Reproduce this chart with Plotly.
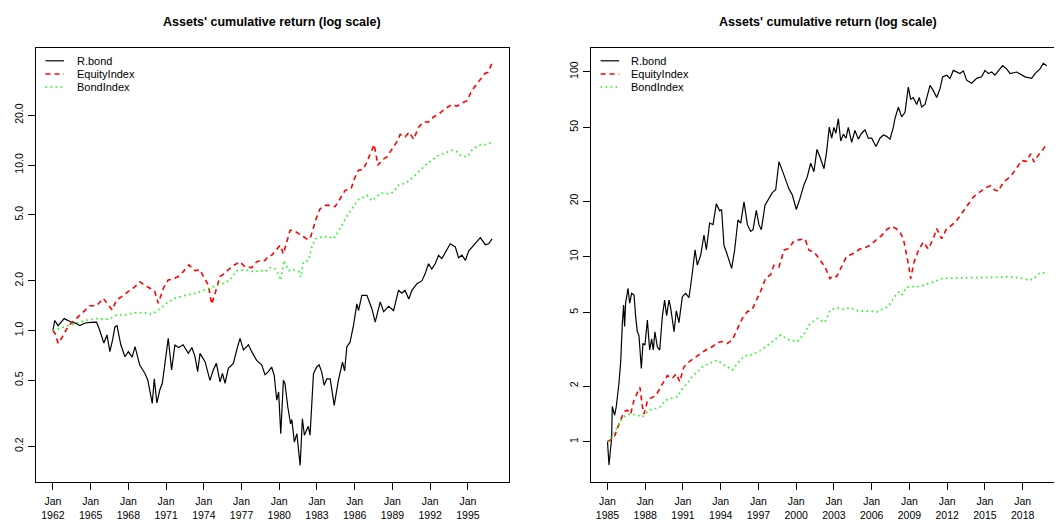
import plotly.graph_objects as go

# ---------------- data: left panel (1962-1996) ----------------
L_bond_t = [1962.0, 1962.15, 1962.41, 1962.9, 1963.4, 1963.9, 1964.14, 1964.54, 1965.0, 1965.47, 1965.73,
            1966.05, 1966.3, 1966.53, 1966.75, 1966.93, 1967.1, 1967.4, 1967.73, 1968.0, 1968.3, 1968.53,
            1968.9, 1969.32, 1969.55, 1969.72, 1969.9, 1970.06, 1970.27, 1970.5, 1970.7, 1970.91, 1971.17,
            1971.44, 1971.7, 1972.0, 1972.35, 1972.77, 1973.05, 1973.3, 1973.51, 1973.7, 1974.1, 1974.49,
            1974.75, 1975.0, 1975.29, 1975.48, 1975.69, 1975.95, 1976.35, 1976.62, 1976.88, 1977.15,
            1977.55, 1977.81, 1978.2, 1978.6, 1978.87, 1979.1, 1979.4, 1979.6, 1979.8, 1979.95, 1980.12,
            1980.33, 1980.45, 1980.68, 1980.9, 1981.0, 1981.2, 1981.4, 1981.66, 1981.84, 1982.0, 1982.3,
            1982.45, 1982.72, 1982.98, 1983.17, 1983.38, 1983.57, 1983.78, 1984.05, 1984.37, 1984.7,
            1985.03, 1985.2, 1985.37, 1985.63, 1985.9, 1986.17, 1986.3, 1986.57, 1986.97, 1987.37,
            1987.63, 1988.03, 1988.3, 1988.7, 1989.09, 1989.48, 1989.75, 1990.0, 1990.3, 1990.55,
            1990.95, 1991.35, 1991.6, 1991.87, 1992.13, 1992.4, 1992.67, 1992.93, 1993.34, 1993.6,
            1994.0, 1994.26, 1994.53, 1994.8, 1995.06, 1995.46, 1995.99, 1996.39, 1996.65, 1996.92]
L_bond_v = [1.00, 1.15, 1.07, 1.18, 1.13, 1.10, 1.07, 1.11, 1.12, 1.125, 1.00,
            0.84, 0.94, 0.745, 0.88, 1.05, 1.07, 0.82, 0.694, 0.745, 0.69, 0.80,
            0.62, 0.55, 0.50, 0.42, 0.363, 0.51, 0.365, 0.437, 0.48, 0.633, 0.897,
            0.577, 0.818, 0.79, 0.82, 0.728, 0.79, 0.695, 0.564, 0.728, 0.648, 0.50,
            0.577, 0.633, 0.49, 0.55, 0.48, 0.59, 0.633, 0.763, 0.897, 0.763,
            0.82, 0.745, 0.66, 0.62, 0.54, 0.56, 0.60, 0.536, 0.379, 0.425, 0.238,
            0.50, 0.48, 0.345, 0.273, 0.29, 0.212, 0.238, 0.153, 0.293, 0.233, 0.264,
            0.233, 0.548, 0.602, 0.62, 0.56, 0.467, 0.51, 0.51, 0.353, 0.50,
            0.645, 0.57, 0.795, 0.85, 1.07, 1.45, 1.32, 1.63, 1.63, 1.35,
            1.125, 1.49, 1.30, 1.40, 1.32, 1.75, 1.68, 1.75, 1.55, 1.75,
            1.92, 2.0, 2.20, 2.53, 2.35, 2.53, 2.85, 2.72, 3.12, 3.34,
            3.2, 2.75, 2.85, 2.65, 3.02, 3.27, 3.64, 3.3, 3.34, 3.58]

L_eq_t = [1962.0, 1962.2, 1962.41, 1962.7, 1963.03, 1963.3, 1963.88, 1964.41, 1964.94, 1965.47, 1966.0,
          1966.4, 1966.72, 1967.05, 1967.46, 1967.99, 1968.53, 1968.92, 1969.32, 1969.72, 1970.1,
          1970.38, 1970.78, 1971.17, 1971.57, 1971.97, 1972.37, 1972.82, 1973.3, 1973.7, 1973.96,
          1974.36, 1974.63, 1974.9, 1975.29, 1975.69, 1975.95, 1976.43, 1976.88, 1977.28, 1977.81,
          1978.2, 1978.6, 1978.87, 1979.14, 1979.4, 1979.8, 1980.07, 1980.33, 1980.6, 1980.86,
          1981.13, 1981.53, 1981.79, 1982.19, 1982.45, 1982.72, 1982.98, 1983.25, 1983.65, 1984.05,
          1984.44, 1984.84, 1985.24, 1985.72, 1985.98, 1986.3, 1986.65, 1986.91, 1987.23, 1987.55,
          1987.84, 1988.16, 1988.56, 1988.96, 1989.35, 1989.62, 1990.02, 1990.34, 1990.68, 1991.08,
          1991.48, 1991.88, 1992.27, 1992.67, 1993.2, 1993.73, 1994.13, 1994.53, 1994.93, 1995.33,
          1995.86, 1996.34, 1996.6, 1996.92]
L_eq_v = [1.0, 0.95, 0.837, 0.90, 1.0, 1.08, 1.185, 1.30, 1.41, 1.41, 1.565,
          1.43, 1.33, 1.53, 1.60, 1.72, 1.84, 1.97, 1.87, 1.80, 1.72,
          1.46, 1.80, 2.02, 2.05, 2.12, 2.27, 2.49, 2.30, 2.33, 2.12,
          1.88, 1.44, 1.68, 2.12, 2.22, 2.33, 2.49, 2.60, 2.42, 2.40,
          2.60, 2.66, 2.65, 2.82, 2.85, 3.1, 3.27, 2.9, 3.5, 4.03,
          4.03, 3.85, 3.78, 3.58, 3.58, 4.22, 4.85, 5.44, 5.70, 5.70,
          5.6, 6.26, 7.03, 7.2, 8.29, 9.3, 9.4, 10.2, 11.7, 13.3,
          9.96, 10.7, 11.2, 12.5, 13.8, 15.3, 14.8, 15.8, 14.3, 16.9,
          18.2, 18.2, 19.5, 20.3, 21.9, 23.2, 22.7, 23.7, 24.5, 28.3,
          31.8, 35.6, 36.4, 41.2]

L_bi_t = [1962.0, 1962.68, 1963.74, 1964.54, 1965.47, 1966.45, 1967.06, 1967.72, 1968.52, 1969.32,
          1969.85, 1970.38, 1971.04, 1971.71, 1972.63, 1973.43, 1973.96, 1974.49, 1974.89, 1975.55,
          1976.08, 1976.62, 1977.28, 1977.94, 1978.61, 1978.87, 1979.27, 1979.67, 1979.93, 1980.12,
          1980.38, 1980.73, 1981.13, 1981.53, 1981.71, 1981.92, 1982.32, 1982.59, 1982.85, 1983.38,
          1983.91, 1984.31, 1984.84, 1985.24, 1985.77, 1986.3, 1986.97, 1987.36, 1987.76, 1988.16,
          1988.69, 1989.09, 1989.49, 1990.02, 1990.55, 1991.08, 1991.61, 1992.14, 1992.67, 1993.2,
          1993.73, 1994.13, 1994.4, 1994.93, 1995.33, 1995.86, 1996.39, 1996.79, 1996.92]
L_bi_v = [1.0, 1.04, 1.105, 1.15, 1.18, 1.17, 1.24, 1.24, 1.28, 1.28,
          1.25, 1.33, 1.46, 1.565, 1.64, 1.68, 1.75, 1.80, 1.86, 1.93,
          2.02, 2.30, 2.32, 2.27, 2.30, 2.26, 2.4, 2.36, 2.2, 2.01,
          2.65, 2.3, 2.33, 2.28, 2.1, 2.59, 2.65, 3.19, 3.58, 3.67,
          3.7, 3.58, 4.12, 4.73, 5.44, 6.17, 6.56, 6.07, 6.45, 6.77,
          6.7, 6.85, 7.55, 7.75, 8.3, 9.07, 9.96, 10.7, 11.45, 11.8,
          12.3, 12.0, 11.45, 11.2, 12.3, 13.15, 13.3, 13.6, 13.6]

# ---------------- data: right panel (1985-2019) ----------------
R_bond_t = [1985.0, 1985.12, 1985.33, 1985.38, 1985.57, 1985.7, 1985.91, 1986.05, 1986.18, 1986.28, 1986.36,
            1986.44, 1986.63, 1986.76, 1986.92, 1987.11, 1987.24, 1987.37, 1987.5, 1987.69, 1987.82, 1987.98,
            1988.17, 1988.35, 1988.51, 1988.64, 1988.77, 1988.96, 1989.15, 1989.36, 1989.54, 1989.7, 1989.89,
            1990.02, 1990.29, 1990.47, 1990.68, 1990.95, 1991.21, 1991.48, 1991.74, 1991.96, 1992.14, 1992.41,
            1992.67, 1992.86, 1993.12, 1993.39, 1993.65, 1993.92, 1994.07, 1994.26, 1994.45, 1994.66, 1994.87,
            1995.11, 1995.37, 1995.59, 1995.85, 1996.12, 1996.38, 1996.57, 1996.83, 1997.04, 1997.23, 1997.52,
            1997.84, 1998.1, 1998.37, 1998.63, 1998.9, 1999.16, 1999.43, 1999.69, 2000.01, 2000.28, 2000.62,
            2000.88, 2001.15, 2001.41, 2001.65, 2001.89, 2002.21, 2002.42, 2002.63, 2002.82, 2003.0, 2003.16,
            2003.35, 2003.54, 2003.75, 2003.96, 2004.14, 2004.41, 2004.67, 2004.94, 2005.2, 2005.47, 2005.73,
            2006.0, 2006.34, 2006.66, 2006.93, 2007.19, 2007.46, 2007.72, 2007.85, 2008.12, 2008.38, 2008.65,
            2008.91, 2009.1, 2009.31, 2009.58, 2009.79, 2009.97, 2010.24, 2010.42, 2010.64, 2010.9, 2011.17,
            2011.43, 2011.64, 2011.96, 2012.23, 2012.49, 2012.76, 2013.02, 2013.29, 2013.55, 2013.95, 2014.35,
            2014.74, 2015.01, 2015.27, 2015.54, 2015.8, 2016.07, 2016.41, 2016.73, 2017.0, 2017.53, 2017.92,
            2018.19, 2018.72, 2018.98, 2019.38, 2019.65, 2019.91]
R_bond_v = [1.0, 0.748, 1.05, 1.55, 1.39, 1.55, 2.07, 2.71, 4.37, 5.48, 4.2,
            5.6, 6.74, 5.6, 6.34, 6.2, 4.74, 3.93, 3.76, 2.49, 3.4, 3.33,
            4.54, 3.13, 3.6, 3.13, 3.93, 3.26, 3.13, 4.74, 5.83, 4.8, 5.83,
            5.3, 3.93, 5.1, 4.4, 6.08, 6.34, 6.0, 8.14, 10.9, 9.0, 10.2,
            13.1, 10.9, 15.2, 14.9, 19.3, 17.7, 18.0, 11.5, 10.6, 9.6, 8.65,
            10.9, 15.8, 15.2, 19.8, 14.9, 13.7, 14.0, 17.8, 14.9, 14.0, 19.0,
            20.6, 22.2, 23.0, 32.6, 29.2, 25.9, 23.2, 21.6, 18.0, 20.4, 24.5,
            27.0, 32.0, 28.8, 38.0, 34.6, 29.9, 37.0, 50.2, 43.7, 50.0, 46.5,
            55.7, 42.2, 46.0, 43.7, 50.0, 41.5, 48.1, 43.2, 46.5, 48.5, 43.7,
            43.7, 39.4, 43.7, 45.5, 44.7, 43.2, 50.0, 55.8, 64.4, 57.0, 60.3,
            82.6, 71.0, 72.5, 66.5, 72.5, 64.4, 66.5, 74.0, 84.3, 79.0, 72.5,
            80.7, 93.8, 95.6, 92.0, 101.6, 99.6, 97.7, 101.0, 90.0, 86.6, 92.0,
            93.8, 101.6, 97.7, 99.6, 95.8, 101.6, 107.8, 103.6, 97.7, 99.6, 95.8,
            93.8, 92.0, 97.7, 103.6, 111.0, 107.6]

R_eq_t = [1985.0, 1985.25, 1985.52, 1985.78, 1986.05, 1986.31, 1986.58, 1986.84, 1987.11, 1987.37, 1987.58,
          1987.77, 1987.9, 1988.17, 1988.43, 1988.83, 1989.09, 1989.49, 1989.76, 1990.15, 1990.47, 1990.74,
          1991.08, 1991.48, 1991.88, 1992.27, 1992.8, 1993.33, 1993.73, 1994.13, 1994.53, 1994.92, 1995.32,
          1995.72, 1996.11, 1996.51, 1996.91, 1997.17, 1997.57, 1997.97, 1998.23, 1998.63, 1999.03, 1999.43,
          1999.83, 2000.22, 2000.7, 2001.02, 2001.41, 2001.81, 2002.29, 2002.69, 2002.95, 2003.22, 2003.61,
          2004.01, 2004.54, 2005.07, 2005.47, 2005.87, 2006.34, 2006.79, 2007.19, 2007.59, 2007.93, 2008.25,
          2008.52, 2008.73, 2008.91, 2009.1, 2009.36, 2009.71, 2010.11, 2010.5, 2010.9, 2011.17, 2011.56,
          2011.96, 2012.36, 2012.76, 2013.15, 2013.55, 2014.08, 2014.61, 2015.14, 2015.46, 2015.8, 2016.07,
          2016.47, 2017.0, 2017.39, 2017.92, 2018.32, 2018.64, 2018.9, 2019.25, 2019.59, 2019.91]
R_eq_v = [1.0, 1.02, 1.05, 1.18, 1.32, 1.45, 1.48, 1.41, 1.68, 1.83, 1.97,
          1.55, 1.41, 1.65, 1.72, 1.77, 1.90, 2.15, 2.28, 2.2, 2.33, 2.11,
          2.54, 2.7, 2.82, 2.95, 3.13, 3.26, 3.43, 3.48, 3.4, 3.55, 4.1,
          4.64, 5.04, 5.2, 5.95, 6.5, 7.65, 8.0, 9.0, 8.8, 10.85, 11.1,
          12.2, 12.3, 12.5, 10.85, 10.6, 9.8, 8.8, 7.6, 7.9, 7.8, 8.9,
          10.05, 10.4, 11.0, 11.2, 11.5, 12.3, 13.0, 14.0, 14.6, 14.2, 13.6,
          12.5, 10.8, 9.2, 7.6, 9.3, 10.8, 12.0, 11.0, 12.5, 14.2, 12.5,
          14.2, 14.8, 15.7, 17.1, 18.9, 21.0, 22.4, 23.7, 24.2, 22.9, 22.6,
          25.3, 27.0, 29.2, 33.1, 32.8, 36.0, 32.5, 35.4, 37.7, 40.8]

R_bi_t = [1985.0, 1985.52, 1986.05, 1986.44, 1986.84, 1987.37, 1987.77, 1988.3, 1988.83, 1989.23, 1989.62,
          1990.15, 1990.55, 1990.95, 1991.35, 1991.74, 1992.14, 1992.54, 1993.07, 1993.73, 1994.26, 1994.92,
          1995.32, 1995.85, 1996.51, 1997.04, 1997.57, 1998.1, 1998.77, 1999.43, 2000.09, 2000.62, 2001.02,
          2001.68, 2001.89, 2002.29, 2002.69, 2003.22, 2003.75, 2004.28, 2004.81, 2005.34, 2005.87, 2006.4,
          2006.93, 2007.32, 2007.72, 2008.12, 2008.38, 2008.78, 2009.31, 2009.84, 2010.37, 2010.9, 2011.56,
          2012.23, 2013.02, 2013.82, 2014.61, 2015.41, 2016.2, 2016.73, 2017.39, 2017.92, 2018.59, 2018.98,
          2019.38, 2019.91]
R_bi_v = [1.0, 1.11, 1.3, 1.39, 1.41, 1.39, 1.36, 1.48, 1.51, 1.55, 1.68,
          1.72, 1.75, 1.94, 2.07, 2.25, 2.4, 2.54, 2.65, 2.76, 2.6, 2.44,
          2.65, 2.9, 2.95, 3.08, 3.26, 3.47, 3.77, 3.55, 3.47, 3.82, 4.27,
          4.64, 4.53, 4.43, 5.12, 5.3, 5.2, 5.3, 5.12, 5.08, 5.08, 5.03,
          5.2, 5.38, 5.93, 6.43, 6.2, 6.84, 6.9, 6.9, 7.1, 7.3, 7.6,
          7.65, 7.7, 7.7, 7.7, 7.7, 7.75, 7.8, 7.75, 7.65, 7.45, 7.7,
          8.17, 8.2]

series_names = ["R.bond", "EquityIndex", "BondIndex"]
title_text = "Assets' cumulative return (log scale)"

L_xtick_years = list(range(1962, 1996, 3))
R_xtick_years = list(range(1985, 2019, 3))
L_xtick_text = ["Jan<br>%d" % y for y in L_xtick_years]
R_xtick_text = ["Jan<br>%d" % y for y in R_xtick_years]
L_ytick_vals = [0.2, 0.5, 1.0, 2.0, 5.0, 10.0, 20.0]
L_ytick_text = ["0.2", "0.5", "1.0", "2.0", "5.0", "10.0", "20.0"]
R_ytick_vals = [1, 2, 5, 10, 20, 50, 100]
R_ytick_text = ["1", "2", "5", "10", "20", "50", "100"]

# ---------------- styling ----------------
# The page body keeps an 8px margin, so the figure is drawn 8px in from the
# top-left corner of the 1062x520 window; positions below are window pixels.
OFF = 8
W, H = 1062 - OFF, 520 - OFF
FONT = "Liberation Sans, Arial, Helvetica, sans-serif"
styles = [dict(color="black", width=1.2, dash="solid"),
          dict(color="#FF0000", width=1.6, dash="5px,4px"),
          dict(color="#00FF00", width=1.6, dash="1.5px,3.5px")]

def px(x):
    return (x - OFF) / W

def py(y):
    return 1 - (y - OFF) / H

fig = go.Figure()
left = [(L_bond_t, L_bond_v), (L_eq_t, L_eq_v), (L_bi_t, L_bi_v)]
right = [(R_bond_t, R_bond_v), (R_eq_t, R_eq_v), (R_bi_t, R_bi_v)]
for (t, v), nm, st in zip(left, series_names, styles):
    fig.add_trace(go.Scatter(x=t, y=v, mode="lines", name=nm, line=st,
                             xaxis="x", yaxis="y", showlegend=False))
for (t, v), nm, st in zip(right, series_names, styles):
    fig.add_trace(go.Scatter(x=t, y=v, mode="lines", name=nm, line=st,
                             xaxis="x2", yaxis="y2", showlegend=False))

ydom = [py(481.5), py(47.5)]
axis_common = dict(showgrid=False, zeroline=False, showline=True, linecolor="black",
                   linewidth=1, ticks="outside", ticklen=7, tickcolor="black", tickwidth=1,
                   tickfont=dict(family=FONT, size=10.5, color="black"))

fig.update_layout(
    width=W, height=H, margin=dict(l=0, r=0, t=0, b=0),
    paper_bgcolor="white", plot_bgcolor="white", showlegend=False,
    xaxis=dict(domain=[px(35.5), px(509)], range=[1960.616, 1998.27], anchor="y",
               tickmode="array", tickvals=L_xtick_years, ticktext=L_xtick_text,
               ticklabelstandoff=3, mirror=True, **axis_common),
    yaxis=dict(domain=ydom, type="log", range=[-0.9124, 1.710], anchor="x",
               tickmode="array", tickvals=L_ytick_vals, ticktext=L_ytick_text,
               tickangle=-90, mirror=True, **axis_common),
    xaxis2=dict(domain=[px(590.5), 1.0], range=[1983.649, 2021.13], anchor="y2",
                tickmode="array", tickvals=R_xtick_years, ticktext=R_xtick_text,
                ticklabelstandoff=3, mirror=True, **axis_common),
    yaxis2=dict(domain=ydom, type="log", range=[-0.2151, 2.1308], anchor="x2",
                tickmode="array", tickvals=R_ytick_vals, ticktext=R_ytick_text,
                tickangle=-90, mirror=False, **axis_common),
)

# titles
for cx in (272.3, 827.5):
    fig.add_annotation(x=px(cx), y=py(22), xref="paper", yref="paper", showarrow=False,
                       text="<b>%s</b>" % title_text, xanchor="center", yanchor="middle",
                       font=dict(family=FONT, size=12.5, color="black"))

# legends (one per panel)
rows = [60.8, 74.0, 87.0]
for x0, x1, xt in ((45.5, 64.0, 74.5), (600.6, 619.2, 629.4)):
    for ry, nm, st in zip(rows, series_names, styles):
        fig.add_shape(type="line", xref="paper", yref="paper",
                      x0=px(x0), x1=px(x1), y0=py(ry), y1=py(ry),
                      line=dict(color=st["color"], width=st["width"], dash=st["dash"]))
        fig.add_annotation(x=px(xt), y=py(ry), xref="paper", yref="paper", showarrow=False,
                           text=nm, xanchor="left", yanchor="middle",
                           font=dict(family=FONT, size=11, color="black"))

fig.write_html("out.html")
